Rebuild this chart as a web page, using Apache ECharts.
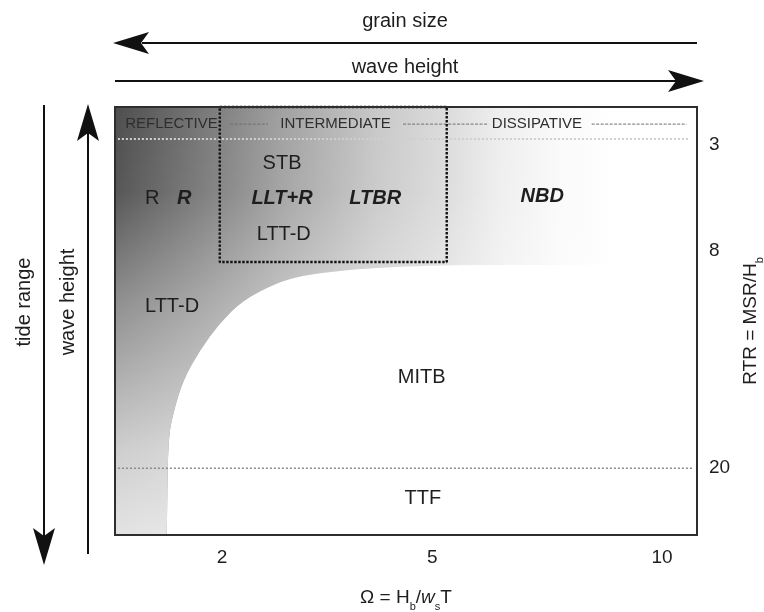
<!DOCTYPE html>
<html>
<head>
<meta charset="utf-8">
<script src="https://cdn.jsdelivr.net/npm/echarts@6/dist/echarts.min.js"></script>
<style>
html, body { margin: 0; padding: 0; background: #ffffff; }
#chart { width: 764px; height: 612px; }
</style>
</head>
<body>
<div id="chart"></div>
<script>
// Schematic space: x runs 0–100 across the Ω range, y runs 0–100 down the RTR range.
const omegaTickPos = [18.4, 54.5, 94.0];
const omegaTickText = ['2', '5', '10'];
const rtrTickPos = [8.8, 33.6, 84.4];
const rtrTickText = ['3', '8', '20'];
const rtrThresholdY = [7.5, 84.4];

// Edge of the shaded (wave-dominated / tide-modified) domain, traced right to left.
const boundaryX = [100, 61.0, 50.7, 39.2, 31.8, 27.8, 22.0, 18.0, 14.6, 11.7, 10.0, 9.1, 8.9];
const boundaryY = [36.9, 36.9, 37.1, 38.1, 39.5, 41.1, 45.1, 50.5, 56.8, 63.8, 71.5, 77.8, 100];

// Intermediate-state box
const boxX = [18.0, 57.0];
const boxY = [0, 36.2];

// Beach-state headings and the dashes that follow them
const stateNames = ['REFLECTIVE', 'INTERMEDIATE', 'DISSIPATIVE'];
const stateX = [9.7, 37.9, 72.5];
const stateY = [4.0, 4.0, 4.0];
const dashStartX = [19.8, 49.5, 81.9];
const dashEndX = [26.3, 64.2, 98.2];

// Beach-type labels
const plainNames = ['R', 'STB', 'LTT-D', 'LTT-D', 'MITB', 'TTF'];
const plainX = [6.4, 28.7, 29.0, 9.8, 52.7, 52.9];
const plainY = [21.3, 13.1, 29.9, 46.7, 63.1, 91.4];

const modelNames = ['R', 'LLT+R', 'LTBR', 'NBD'];
const modelX = [11.9, 28.7, 44.7, 73.4];
const modelY = [21.3, 21.3, 21.3, 21.0];

const FONT = '"Liberation Sans", Arial, Helvetica, sans-serif';
const INK = '#1e1e1e';

const chart = echarts.init(document.getElementById('chart'), null, { renderer: 'canvas' });

// Outline of the shaded domain: straight frame edges, smoothed boundary curve.
function shadePath(api) {
  const b = boundaryX.map((x, i) => api.coord([x, boundaryY[i]]));
  const p00 = api.coord([0, 0]);
  const p10 = api.coord([100, 0]);
  const p01 = api.coord([0, 100]);
  let d = 'M' + p00[0] + ' ' + p00[1] + ' L' + p10[0] + ' ' + p10[1];
  d += ' L' + b[0][0] + ' ' + b[0][1] + ' L' + b[1][0] + ' ' + b[1][1];
  for (let i = 2; i < b.length - 1; i++) {
    const mx = (b[i][0] + b[i + 1][0]) / 2;
    const my = (b[i][1] + b[i + 1][1]) / 2;
    d += ' Q' + b[i][0] + ' ' + b[i][1] + ' ' + mx + ' ' + my;
  }
  const last = b[b.length - 1];
  d += ' L' + last[0] + ' ' + last[1] + ' L' + p01[0] + ' ' + p01[1] + ' Z';
  return d;
}

function renderShade(params, api) {
  const d = shadePath(api);
  const p00 = api.coord([0, 0]);
  const p11 = api.coord([100, 100]);
  return {
    type: 'group',
    children: [
      {
        type: 'path',
        shape: { pathData: d, x: p00[0], y: p00[1], width: p11[0] - p00[0], height: p11[1] - p00[1] },
        style: {
          fill: new echarts.graphic.LinearGradient(p00[0], 0, p11[0], 0, [
            { offset: 0.0, color: '#4e4e4e' },
            { offset: 0.146, color: '#777777' },
            { offset: 0.287, color: '#a1a1a1' },
            { offset: 0.448, color: '#c8c8c8' },
            { offset: 0.57, color: '#dcdcdc' },
            { offset: 0.66, color: '#eeeeee' },
            { offset: 0.765, color: '#fafafa' },
            { offset: 0.86, color: '#ffffff' },
            { offset: 1.0, color: '#ffffff' }
          ], true)
        }
      },
      {
        type: 'path',
        shape: { pathData: d, x: p00[0], y: p00[1], width: p11[0] - p00[0], height: p11[1] - p00[1] },
        style: {
          fill: new echarts.graphic.LinearGradient(0, p00[1], 0, p11[1], [
            { offset: 0.0, color: 'rgba(255,255,255,0)' },
            { offset: 0.2, color: 'rgba(255,255,255,0.05)' },
            { offset: 0.45, color: 'rgba(255,255,255,0.36)' },
            { offset: 0.8, color: 'rgba(255,255,255,0.72)' },
            { offset: 1.0, color: 'rgba(255,255,255,0.84)' }
          ], true)
        }
      }
    ]
  };
}

function renderFrame(params, api) {
  const a = api.coord([0, 0]);
  const b = api.coord([100, 100]);
  return {
    type: 'rect',
    shape: { x: a[0], y: a[1], width: b[0] - a[0], height: b[1] - a[1] },
    style: { fill: 'none', stroke: '#2e2e2e', lineWidth: 2 }
  };
}

const series = [];

series.push({
  type: 'custom', renderItem: renderShade, data: [[0, 0]], silent: true, z: 1, clip: false
});

// RTR threshold lines (3 and 20)
series.push({
  type: 'line', data: [[0.5, rtrThresholdY[0]], [98.6, rtrThresholdY[0]]],
  symbol: 'none', silent: true, z: 3, clip: false,
  lineStyle: { color: '#cfcfcf', width: 2, type: [2, 2] }
});
series.push({
  type: 'line', data: [[0.5, rtrThresholdY[1]], [99.2, rtrThresholdY[1]]],
  symbol: 'none', silent: true, z: 3, clip: false,
  lineStyle: { color: '#8a8a8a', width: 1.5, type: [2, 2] }
});

// Heading dashes
for (let i = 0; i < dashStartX.length; i++) {
  series.push({
    type: 'line', data: [[dashStartX[i], stateY[i]], [dashEndX[i], stateY[i]]],
    symbol: 'none', silent: true, z: 3, clip: false,
    lineStyle: { color: '#6f6f6f', width: 1, type: [3, 1.5] }
  });
}

// Intermediate box
series.push({
  type: 'line',
  data: [[boxX[0], boxY[0]], [boxX[1], boxY[0]], [boxX[1], boxY[1]], [boxX[0], boxY[1]], [boxX[0], boxY[0]]],
  symbol: 'none', silent: true, z: 4, clip: false,
  lineStyle: { color: '#111111', width: 2.4, type: [2.4, 1.6] }
});

const hiddenDot = { color: 'rgba(0,0,0,0)', opacity: 1 };

// Headings
series.push({
  type: 'scatter', silent: true, z: 5, symbolSize: 1, itemStyle: hiddenDot,
  data: stateNames.map((n, i) => ({ name: n, value: [stateX[i], stateY[i]] })),
  label: {
    show: true, position: 'inside', formatter: p => p.name,
    fontFamily: FONT, fontSize: 15, color: '#2e2e2e'
  }
});

// Plain beach-type labels
series.push({
  type: 'scatter', silent: true, z: 5, symbolSize: 1, itemStyle: hiddenDot,
  data: plainNames.map((n, i) => ({ name: n, value: [plainX[i], plainY[i]] })),
  label: {
    show: true, position: 'inside', formatter: p => p.name,
    fontFamily: FONT, fontSize: 20, color: INK
  }
});

// Model beach-state labels (bold italic)
series.push({
  type: 'scatter', silent: true, z: 5, symbolSize: 1, itemStyle: hiddenDot,
  data: modelNames.map((n, i) => ({ name: n, value: [modelX[i], modelY[i]] })),
  label: {
    show: true, position: 'inside', formatter: p => p.name,
    fontFamily: FONT, fontSize: 20, fontWeight: 'bold', fontStyle: 'italic', color: INK
  }
});

series.push({
  type: 'custom', renderItem: renderFrame, data: [[0, 0]], silent: true, z: 10, clip: false
});

const rich = {
  t: { fontFamily: FONT, fontSize: 19, color: INK },
  ti: { fontFamily: FONT, fontSize: 19, color: INK, fontStyle: 'italic' },
  s: { fontFamily: FONT, fontSize: 11, color: INK, verticalAlign: 'bottom', padding: [0, 0, -5, 0] }
};

const option = {
  backgroundColor: '#ffffff',
  animation: false,
  grid: { left: 115, right: 67, top: 107, bottom: 77, containLabel: false, outerBoundsMode: 'none' },
  xAxis: {
    type: 'value', min: 0, max: 100,
    axisLine: { show: false }, axisTick: { show: false }, splitLine: { show: false },
    axisLabel: {
      customValues: omegaTickPos,
      formatter: v => omegaTickText[omegaTickPos.indexOf(v)],
      fontFamily: FONT, fontSize: 19, color: INK, margin: 13
    },
    name: '{t|Ω = H}{s|b}{t|/}{ti|w}{s|s}{t|T}',
    nameLocation: 'middle', nameGap: 53,
    nameTextStyle: { rich: rich }
  },
  yAxis: {
    type: 'value', min: 0, max: 100, inverse: true, position: 'right',
    axisLine: { show: false }, axisTick: { show: false }, splitLine: { show: false },
    axisLabel: {
      customValues: rtrTickPos,
      formatter: v => rtrTickText[rtrTickPos.indexOf(v)],
      fontFamily: FONT, fontSize: 19, color: INK, margin: 12
    },
    name: '{t|RTR = MSR/H}{s|b}',
    nameLocation: 'middle', nameGap: 32, nameRotate: 90,
    nameTextStyle: { rich: rich }
  },
  graphic: [
    // grain size arrow (pointing left)
    { type: 'line', shape: { x1: 142, y1: 43, x2: 697, y2: 43 }, style: { stroke: '#111', lineWidth: 2 }, silent: true },
    { type: 'polygon', shape: { points: [[113, 43], [149, 32], [141, 43], [149, 54]] }, style: { fill: '#111' }, silent: true },
    { type: 'text', x: 405, y: 21, style: { text: 'grain size', font: '20px ' + FONT, fill: INK, align: 'center', verticalAlign: 'middle' }, silent: true },
    // wave height arrow (pointing right)
    { type: 'line', shape: { x1: 115, y1: 81, x2: 676, y2: 81 }, style: { stroke: '#111', lineWidth: 2 }, silent: true },
    { type: 'polygon', shape: { points: [[704, 81], [668, 70], [676, 81], [668, 92]] }, style: { fill: '#111' }, silent: true },
    { type: 'text', x: 405, y: 67, style: { text: 'wave height', font: '20px ' + FONT, fill: INK, align: 'center', verticalAlign: 'middle' }, silent: true },
    // tide range arrow (pointing down)
    { type: 'line', shape: { x1: 44, y1: 105, x2: 44, y2: 536 }, style: { stroke: '#111', lineWidth: 2 }, silent: true },
    { type: 'polygon', shape: { points: [[44, 565], [33, 528], [44, 536], [55, 528]] }, style: { fill: '#111' }, silent: true },
    { type: 'text', x: 24, y: 302, rotation: Math.PI / 2, style: { text: 'tide range', font: '20px ' + FONT, fill: INK, align: 'center', verticalAlign: 'middle' }, silent: true },
    // wave height arrow (pointing up)
    { type: 'line', shape: { x1: 88, y1: 132, x2: 88, y2: 554 }, style: { stroke: '#111', lineWidth: 2 }, silent: true },
    { type: 'polygon', shape: { points: [[88, 104], [77, 141], [88, 133], [99, 141]] }, style: { fill: '#111' }, silent: true },
    { type: 'text', x: 68, y: 302, rotation: Math.PI / 2, style: { text: 'wave height', font: '20px ' + FONT, fill: INK, align: 'center', verticalAlign: 'middle' }, silent: true }
  ],
  series: series
};

chart.setOption(option);
</script>
</body>
</html>
